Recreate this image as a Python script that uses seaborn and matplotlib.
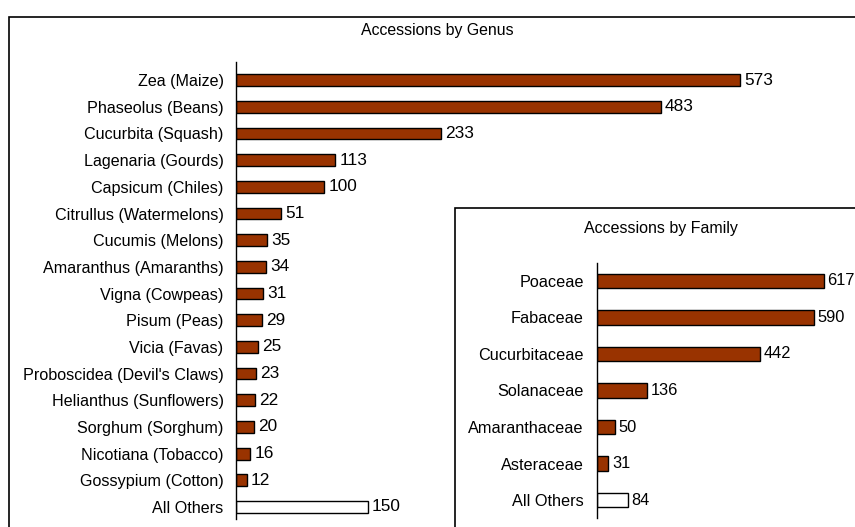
import matplotlib
matplotlib.use("Agg")
import matplotlib.pyplot as plt
import seaborn as sns
import pandas as pd
from matplotlib.patches import Rectangle

genus = ["Zea (Maize)", "Phaseolus (Beans)", "Cucurbita (Squash)", "Lagenaria (Gourds)",
         "Capsicum (Chiles)", "Citrullus (Watermelons)", "Cucumis (Melons)",
         "Amaranthus (Amaranths)", "Vigna (Cowpeas)", "Pisum (Peas)", "Vicia (Favas)",
         "Proboscidea (Devil's Claws)", "Helianthus (Sunflowers)", "Sorghum (Sorghum)",
         "Nicotiana (Tobacco)", "Gossypium (Cotton)", "All Others"]
genus_counts = [573, 483, 233, 113, 100, 51, 35, 34, 31, 29, 25, 23, 22, 20, 16, 12, 150]

family = ["Poaceae", "Fabaceae", "Cucurbitaceae", "Solanaceae", "Amaranthaceae",
          "Asteraceae", "All Others"]
family_counts = [617, 590, 442, 136, 50, 31, 84]

BROWN = "#993300"
sns.set_theme(style="white")
plt.rcParams["font.family"] = ["Liberation Sans", "DejaVu Sans"]
plt.rcParams["text.color"] = "black"

W, H = 855, 527
fig = plt.figure(figsize=(W / 100, H / 100), dpi=100)

def fx(px):
    return px / W

def fy(py):
    return 1 - py / H

def draw(ax, cats, vals, fs, vfs, pad, vpad):
    df = pd.DataFrame({"cat": cats, "val": vals})
    pal = [BROWN] * (len(cats) - 1) + ["white"]
    sns.barplot(data=df, y="cat", x="val", hue="cat", palette=pal, legend=False,
                orient="h", ax=ax, edgecolor="black", linewidth=1.0, saturation=1)
    for c in ax.containers:
        ax.bar_label(c, padding=vpad, fontsize=vfs, color="black")
    for s in ["top", "right", "bottom"]:
        ax.spines[s].set_visible(False)
    ax.spines["left"].set_color("black")
    ax.spines["left"].set_linewidth(1.0)
    ax.set_xticks([])
    ax.set_xlabel("")
    ax.set_ylabel("")
    ax.tick_params(axis="y", length=0, pad=pad, labelsize=fs, colors="black")
    ax.set_facecolor("none")

# Main chart
main_left, main_top, main_bottom = 236, 62, 519
ax1 = fig.add_axes([fx(main_left), fy(main_bottom), fx(W - main_left), (main_bottom - main_top) / H])
draw(ax1, genus, genus_counts, 11.6, 12.4, 9, 3)
for p in ax1.patches:
    p.set_height(0.44)
    p.set_y(p.get_y() + (0.8 - 0.44) / 2)
ax1.set_xlim(0, (W - main_left) / 0.8796)
ax1.set_ylim(16.45, -0.68)
ax1.set_zorder(0)
fig.text(fx(437), fy(30), "Accessions by Genus", ha="center", va="center", fontsize=11.4,
         color="black")

# Outer frame
fig.patches.append(Rectangle((fx(9), fy(H + 5)), fx(W), fy(17) - fy(H + 5),
                             transform=fig.transFigure, fill=False, edgecolor="black",
                             linewidth=1.2, zorder=5))
# Inset frame
fig.patches.append(Rectangle((fx(455), fy(H + 5)), fx(W), fy(208) - fy(H + 5),
                             transform=fig.transFigure, facecolor="white", edgecolor="black",
                             linewidth=1.2, zorder=1))

ins_left, ins_top, ins_bottom = 597, 263, 518
ax2 = fig.add_axes([fx(ins_left), fy(ins_bottom), fx(W - ins_left), (ins_bottom - ins_top) / H])
draw(ax2, family, family_counts, 11.7, 11.8, 9.5, 2.5)
for p in ax2.patches:
    p.set_height(0.39)
    p.set_y(p.get_y() + (0.8 - 0.39) / 2)
ax2.set_xlim(0, (W - ins_left) / 0.368)
ax2.set_ylim(6.49, -0.49)
ax2.set_zorder(2)
fig.text(fx(661), fy(229), "Accessions by Family", ha="center", va="center", fontsize=11.5,
         color="black", zorder=3)

fig.savefig("out.png", dpi=100)
